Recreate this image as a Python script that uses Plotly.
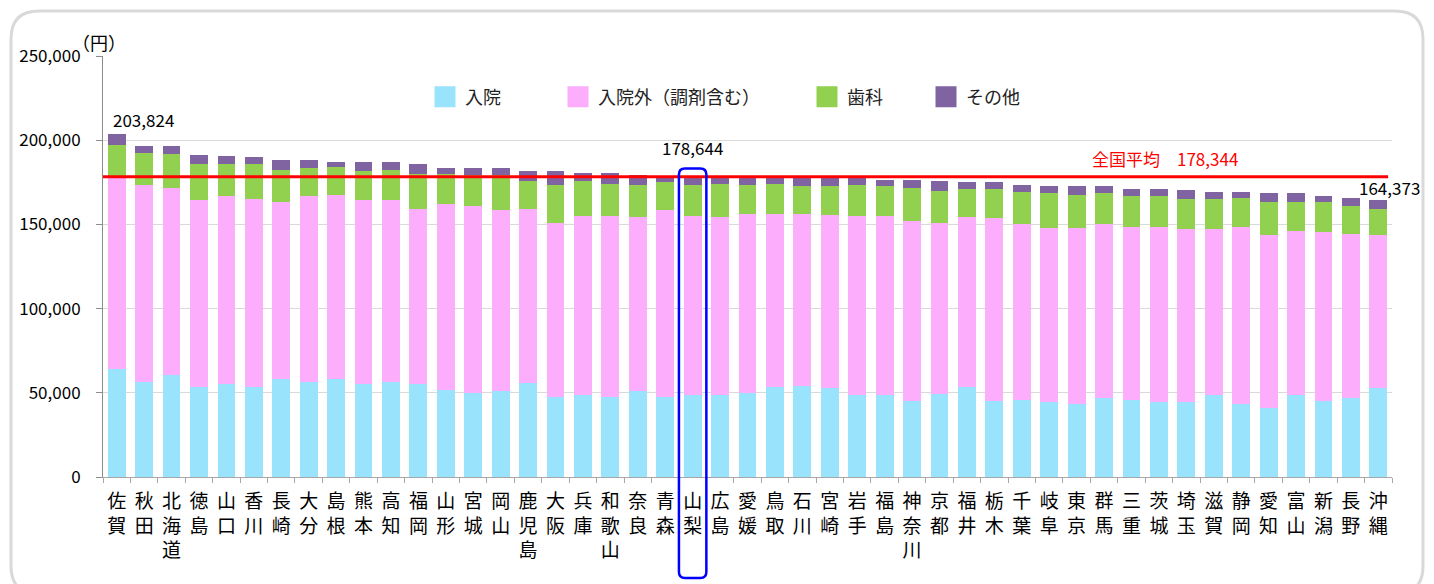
import plotly.graph_objects as go

prefectures = ["佐賀", "秋田", "北海道", "徳島", "山口", "香川", "長崎", "大分", "島根", "熊本",
               "高知", "福岡", "山形", "宮城", "岡山", "鹿児島", "大阪", "兵庫", "和歌山", "奈良",
               "青森", "山梨", "広島", "愛媛", "鳥取", "石川", "宮崎", "岩手", "福島", "神奈川",
               "京都", "福井", "栃木", "千葉", "岐阜", "東京", "群馬", "三重", "茨城", "埼玉",
               "滋賀", "静岡", "愛知", "富山", "新潟", "長野", "沖縄"]

inpatient = [64200, 56600, 60800, 53500, 55000, 53500, 58400, 56600, 58400, 55000,
             56600, 55000, 51700, 50100, 50900, 55800, 47700, 48500, 47700, 50900,
             47700, 48500, 48500, 50100, 53500, 54300, 52700, 48500, 48500, 45100,
             49300, 53500, 45100, 45900, 44400, 43600, 46700, 45900, 44400, 44400,
             48500, 43600, 41000, 48500, 45100, 46700, 52700]

outpatient = [113600, 116800, 110900, 110800, 111700, 111600, 105100, 110100, 109300, 109300,
              107700, 104400, 110300, 110900, 107700, 103600, 103400, 106700, 107500, 103500,
              110900, 106700, 105900, 105900, 102500, 101800, 102600, 106700, 106700, 106700,
              101800, 101000, 108500, 104300, 103600, 104300, 103600, 102800, 104300, 102800,
              98600, 105100, 102800, 97600, 100200, 97800, 91100]

dental = [19200, 18800, 20400, 21400, 19000, 20600, 18800, 16600, 16400, 17200,
          18000, 20600, 18000, 18200, 20600, 16400, 22400, 20600, 19000, 19000,
          16400, 18200, 19800, 17400, 18200, 16600, 17400, 18200, 17400, 19800,
          19000, 16400, 17200, 19000, 20600, 19800, 18200, 18200, 18200, 18000,
          18000, 17200, 19800, 17400, 18200, 16400, 15600]

other = [6824, 4200, 4300, 5500, 5000, 4200, 5700, 4800, 3200, 5700,
         4900, 5700, 3400, 4200, 4200, 5800, 8100, 5000, 6500, 5700,
         3200, 5244, 3400, 4000, 3400, 4800, 4900, 4000, 4000, 5000,
         5700, 4200, 4200, 4200, 4200, 5000, 4200, 4000, 4000, 5000,
         4200, 3400, 4900, 4900, 3200, 5000, 4973]

series_names = ["入院", "入院外（調剤含む）", "歯科", "その他"]
series_colors = ["#99E4FC", "#FCADFB", "#92D050", "#8064A2"]
national_avg = 178344
highlight = "山梨"
labeled = ["佐賀", "山梨", "沖縄"]

totals = [a + b + c + d for a, b, c, d in zip(inpatient, outpatient, dental, other)]
n = len(prefectures)

FONT = "Noto Sans CJK JP"
fig = go.Figure()

for name, vals, col in zip(series_names, [inpatient, outpatient, dental, other], series_colors):
    fig.add_trace(go.Bar(x=prefectures, y=vals, name=name, marker_color=col,
                         marker_line_width=0, showlegend=False))

# legend entries (one legend each so they can be spaced like the reference)
legend_x = [425, 558, 807, 926]
for i, (name, col) in enumerate(zip(series_names, series_colors)):
    lg = "legend" if i == 0 else f"legend{i+1}"
    fig.add_trace(go.Scatter(x=[None], y=[None], mode="markers", name=name,
                             marker=dict(symbol="square", size=16, color=col,
                                         line=dict(color=col, width=5)),
                             legend=lg, showlegend=True))

legend_common = dict(xref="container", yref="container", xanchor="left", yanchor="middle",
                     y=(584 - 97) / 584, bgcolor="rgba(0,0,0,0)", borderwidth=0,
                     font=dict(family=FONT, size=18, color="#222"), orientation="h")
layout_legends = {}
for i, lx in enumerate(legend_x):
    key = "legend" if i == 0 else f"legend{i+1}"
    layout_legends[key] = dict(legend_common, x=lx / 1434)

# average line
fig.add_shape(type="line", xref="paper", yref="y", x0=0, x1=0.997, y0=national_avg, y1=national_avg,
              line=dict(color="#FF0000", width=3), layer="above")

# rounded highlight box around 山梨
idx = prefectures.index(highlight)
px_w = 1434 - 103 - 42
px_h = 421
x0 = idx / n
x1 = (idx + 1) / n
ytop = 0.733
ybot = -0.24
rx = 6 / px_w
ry = 6 / px_h
path = (f"M{x0 + rx},{ytop} L{x1 - rx},{ytop} Q{x1},{ytop} {x1},{ytop - ry} "
        f"L{x1},{ybot + ry} Q{x1},{ybot} {x1 - rx},{ybot} L{x0 + rx},{ybot} "
        f"Q{x0},{ybot} {x0},{ybot + ry} L{x0},{ytop - ry} Q{x0},{ytop} {x0 + rx},{ytop} Z")
fig.add_shape(type="path", xref="paper", yref="paper", path=path,
              line=dict(color="#0000FF", width=2.5), layer="above")

# outer rounded frame
fx0 = (11 - 103) / px_w
fx1 = (1423 - 103) / px_w
fy1 = (477 - 11) / px_h
fy0 = (477 - 594) / px_h
frx = 28 / px_w
fry = 28 / px_h
fpath = (f"M{fx0 + frx},{fy1} L{fx1 - frx},{fy1} Q{fx1},{fy1} {fx1},{fy1 - fry} "
         f"L{fx1},{fy0 + fry} Q{fx1},{fy0} {fx1 - frx},{fy0} L{fx0 + frx},{fy0} "
         f"Q{fx0},{fy0} {fx0},{fy0 + fry} L{fx0},{fy1 - fry} Q{fx0},{fy1} {fx0 + frx},{fy1} Z")
fig.add_shape(type="path", xref="paper", yref="paper", path=fpath,
              line=dict(color="#D9D9D9", width=3), layer="above")

# value labels
label_cfg = {"佐賀": dict(xanchor="left", xshift=-6, yshift=0),
             "山梨": dict(xanchor="center", xshift=0, yshift=14),
             "沖縄": dict(xanchor="center", xshift=11, yshift=-2)}
for p in labeled:
    i = prefectures.index(p)
    fig.add_annotation(x=p, y=totals[i], text=f"{totals[i]:,}", showarrow=False,
                       yanchor="bottom", font=dict(family=FONT, size=17, color="#000"),
                       **label_cfg[p])

fig.add_annotation(xref="paper", yref="y", x=(1165 - 103) / px_w, y=national_avg,
                   text=f"全国平均　{national_avg:,}", showarrow=False,
                   xanchor="center", yanchor="bottom", yshift=4,
                   font=dict(family=FONT, size=17, color="#FF0000"))

fig.add_annotation(xref="paper", yref="paper", x=-0.003, y=(477 - 42) / px_h, text="（円）",
                   showarrow=False, xanchor="center", yanchor="middle",
                   font=dict(family=FONT, size=18, color="#000"))

ticktext = ["<br>".join(list(p)) for p in prefectures]

fig.update_layout(
    width=1434, height=584,
    margin=dict(l=103, r=42, t=56, b=107, autoexpand=False),
    paper_bgcolor="white", plot_bgcolor="white",
    barmode="stack", bargap=0.35,
    font=dict(family=FONT, color="#000"),
    **layout_legends,
    xaxis=dict(tickmode="array", tickvals=prefectures, ticktext=ticktext, tickangle=0,
               tickfont=dict(family=FONT, size=19, color="#000"),
               showline=True, linecolor="#A6A6A6", linewidth=1,
               ticks="outside", ticklen=5, tickcolor="#A6A6A6", tickson="boundaries",
               ticklabelstandoff=7,
               showgrid=False, range=[-0.5, n - 0.5], fixedrange=True, automargin=False),
    yaxis=dict(range=[0, 250000], dtick=50000, tickformat=",",
               tickfont=dict(family=FONT, size=17, color="#000"),
               showline=True, linecolor="#8C8C8C", linewidth=1,
               ticks="outside", ticklen=6, tickcolor="#8C8C8C",
               showgrid=True, gridcolor="#D9D9D9", gridwidth=1,
               ticklabelstandoff=12, zeroline=False, automargin=False),
)

fig.write_html("out.html", config={"displayModeBar": False},
               post_script="document.body.style.margin='0';document.body.style.overflow='hidden';")
